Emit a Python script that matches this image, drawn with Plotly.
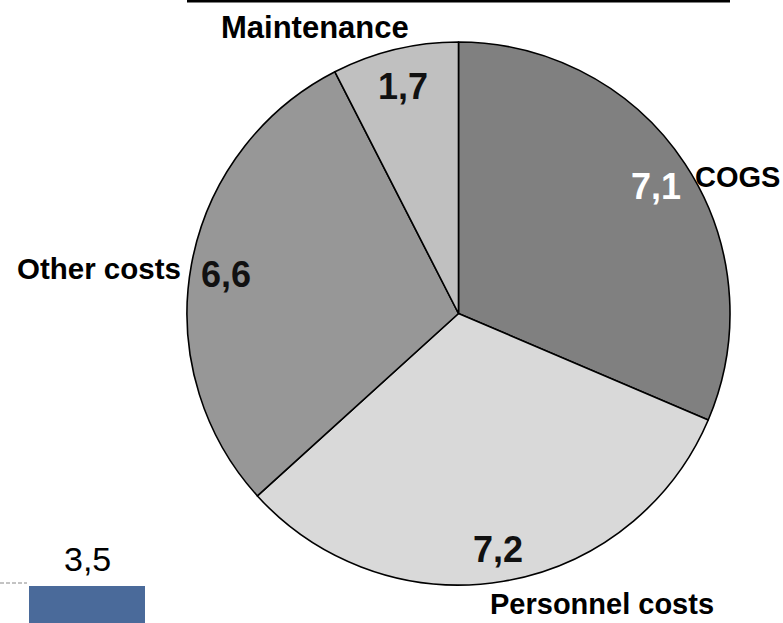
import math
import plotly.graph_objects as go

# Cost breakdown (clockwise from 12 o'clock)
categories = ["COGS", "Personnel costs", "Other costs", "Maintenance"]
values = [7.1, 7.2, 6.6, 1.7]
slice_colors = ["#808080", "#d9d9d9", "#979797", "#c0c0c0"]
value_text_colors = ["#ffffff", "#111111", "#111111", "#111111"]

# Neighbouring bar, partly visible in the lower-left corner
bar_categories = ["A"]
bar_values = [3.5]

W, H = 783, 623
CX, CY, R = 458.5, 313.5, 271.5  # pie centre and radius in pixels

fig = go.Figure()

fig.add_trace(go.Pie(
    labels=categories,
    values=values,
    sort=False,
    direction="clockwise",
    rotation=0,
    marker=dict(colors=slice_colors, line=dict(color="#000000", width=1.6)),
    textinfo="none",
    hoverinfo="label+value",
    showlegend=False,
    domain=dict(x=[(CX - R) / W, (CX + R) / W], y=[1 - (CY + R) / H, 1 - (CY - R) / H]),
))

fig.add_trace(go.Bar(
    x=bar_categories,
    y=bar_values,
    marker=dict(color="#4a6a9a", line=dict(width=0)),
    width=1,
    showlegend=False,
    xaxis="x",
    yaxis="y",
))

annotations = []

# value labels placed along each slice's mid-angle, near the rim
total = sum(values)
cum = 0.0
for v, col in zip(values, value_text_colors):
    mid = (cum + v / 2) / total * 2 * math.pi
    cum += v
    px = CX + 0.87 * R * math.sin(mid)
    py = CY - 0.87 * R * math.cos(mid) + 3
    label = f"{v:.1f}".replace(".", ",")
    annotations.append(dict(
        x=px / W, y=1 - py / H, xref="paper", yref="paper",
        text=f"<b>{label}</b>", showarrow=False,
        font=dict(family="Liberation Sans", size=36, color=col),
        xanchor="center", yanchor="middle",
    ))

# category names outside the pie
label_pos = {
    "COGS": (737, 177, 29),
    "Personnel costs": (602, 604, 29),
    "Other costs": (99, 268, 29.5),
    "Maintenance": (315, 27, 31),
}
for name in categories:
    lx, ly, fs = label_pos[name]
    annotations.append(dict(
        x=lx / W, y=1 - ly / H, xref="paper", yref="paper",
        text=f"<b>{name}</b>", showarrow=False,
        font=dict(family="Liberation Sans", size=fs, color="#000000"),
        xanchor="center", yanchor="middle",
    ))

# value above the corner bar
annotations.append(dict(
    x=bar_categories[0], y=bar_values[0], xref="x", yref="y",
    text=f"{bar_values[0]:.1f}".replace(".", ","), showarrow=False,
    font=dict(family="Liberation Sans", size=34, color="#000000"),
    xanchor="center", yanchor="bottom", yshift=6,
))

shapes = [
    # rule along the top edge
    dict(type="line", xref="paper", yref="paper",
         x0=(CX - R) / W, x1=(CX + R) / W, y0=1 - 1 / H, y1=1 - 1 / H,
         line=dict(color="#000000", width=3)),
    # dashed guide at the left of the corner bar
    dict(type="line", xref="paper", yref="paper",
         x0=0, x1=27 / W, y0=1 - 583 / H, y1=1 - 583 / H,
         line=dict(color="#888888", width=1, dash="4px,2px")),
]

bar_left, bar_right = 29, 145
x_dom = 0.25
unit = bar_right - bar_left
center = (bar_left + bar_right) / 2
fig.update_layout(
    width=W, height=H,
    margin=dict(l=0, r=0, t=0, b=0),
    paper_bgcolor="#ffffff",
    plot_bgcolor="rgba(0,0,0,0)",
    annotations=annotations,
    shapes=shapes,
    xaxis=dict(domain=[0, x_dom], range=[-center / unit, (x_dom * W - center) / unit],
               visible=False, fixedrange=True),
    yaxis=dict(domain=[0, (H - 586) / H], range=[3.0, 3.5], visible=False, fixedrange=True),
)

fig.write_html("out.html")
